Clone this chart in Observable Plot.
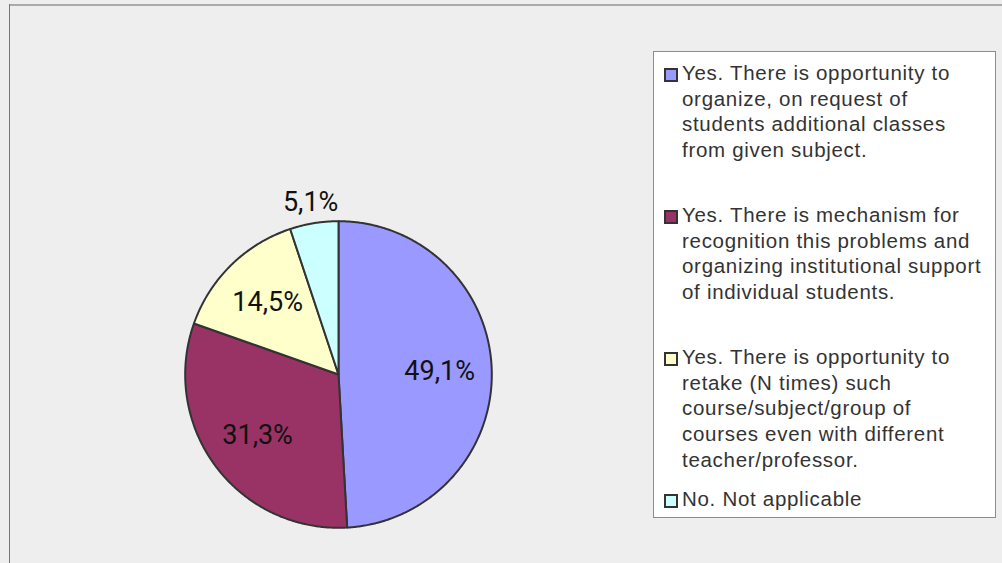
<!DOCTYPE html>
<html>
<head>
<meta charset="utf-8">
<script src="https://cdn.jsdelivr.net/npm/d3@7"></script>
<script src="https://cdn.jsdelivr.net/npm/@observablehq/plot@0.6"></script>
<style>
  html, body { margin: 0; padding: 0; background: #eeeeee; }
  #wrap { position: relative; width: 1002px; height: 563px; overflow: hidden; background: #eeeeee; }
  #frameTop { position: absolute; left: 9px; top: 4px; width: 993px; height: 2px; background: #aaaaaa; }
  #frameLeft { position: absolute; left: 9px; top: 4px; width: 1px; height: 559px; background: #777777; }
  #chart { position: absolute; left: 0; top: 0; }
  #legend { position: absolute; left: 653px; top: 51px; width: 343px; height: 467px; box-sizing: border-box;
            background: #ffffff; border: 1px solid #8c8c8c; font-family: "Liberation Sans", Arial, sans-serif;
            font-size: 20.5px; letter-spacing: 0.7px; color: #333333; padding-top: 8px; }
  .item { position: relative; height: 142px; padding-left: 28px; line-height: 25.7px; white-space: pre-line; }
  .item:last-child { height: auto; }
  .sw { position: absolute; left: 10px; top: 8px; width: 10px; height: 10px; border: 2px solid #333333; }
</style>
</head>
<body>
<div id="wrap">
  <div id="frameTop"></div>
  <div id="frameLeft"></div>
  <div id="chart"></div>
  <div id="legend"></div>
</div>
<script>
const categories = [
  "Yes. There is opportunity to\norganize, on request of\nstudents additional classes\nfrom given subject.",
  "Yes. There is mechanism for\nrecognition this problems and\norganizing institutional support\nof individual students.",
  "Yes. There is opportunity to\nretake (N times) such\ncourse/subject/group of\ncourses even with different\nteacher/professor.",
  "No. Not applicable"
];
const values = [49.1, 31.3, 14.5, 5.1];
const labels = ["49,1%", "31,3%", "14,5%", "5,1%"];
const colors = ["#9999ff", "#993366", "#ffffcc", "#ccffff"];

const total = d3.sum(values);
const slices = [];
const labelRows = [];
let acc = 0;
values.forEach((v, i) => {
  const a0 = acc / total * 2 * Math.PI;
  acc += v;
  const a1 = acc / total * 2 * Math.PI;
  const n = Math.max(2, Math.ceil((a1 - a0) / (Math.PI / 360)));
  slices.push({cat: i, x: 0, y: 0});
  for (let k = 0; k <= n; k++) {
    const a = a0 + (a1 - a0) * k / n;
    slices.push({cat: i, x: Math.sin(a), y: Math.cos(a)});
  }
  const mid = (a0 + a1) / 2;
  const kr = v < 10 ? 1.14 : 0.66;
  labelRows.push({label: labels[i], x: kr * Math.sin(mid), y: kr * Math.cos(mid)});
});

const cx = 338, cy = 374, r = 153.3;
const plot = Plot.plot({
  width: 1002,
  height: 563,
  margin: 0,
  style: {background: "transparent", overflow: "visible"},
  x: {domain: [-1, 1], range: [cx - r, cx + r], axis: null},
  y: {domain: [-1, 1], range: [cy + r, cy - r], axis: null},
  color: {domain: [0, 1, 2, 3], range: colors},
  marks: [
    Plot.line(slices, {x: "x", y: "y", z: "cat", fill: d => d.cat, stroke: "#333333", strokeWidth: 2,
                       strokeLinejoin: "round", curve: "linear-closed"}),
    Plot.text(labelRows, {x: "x", y: "y", text: "label", fontSize: 27, fontFamily: "Roboto",
                          fill: "#111111", stroke: null})
  ]
});
document.getElementById("chart").appendChild(plot);

const legend = document.getElementById("legend");
categories.forEach((c, i) => {
  const div = document.createElement("div");
  div.className = "item";
  const sw = document.createElement("span");
  sw.className = "sw";
  sw.style.background = colors[i];
  div.appendChild(sw);
  div.appendChild(document.createTextNode(c));
  legend.appendChild(div);
});
</script>
</body>
</html>
